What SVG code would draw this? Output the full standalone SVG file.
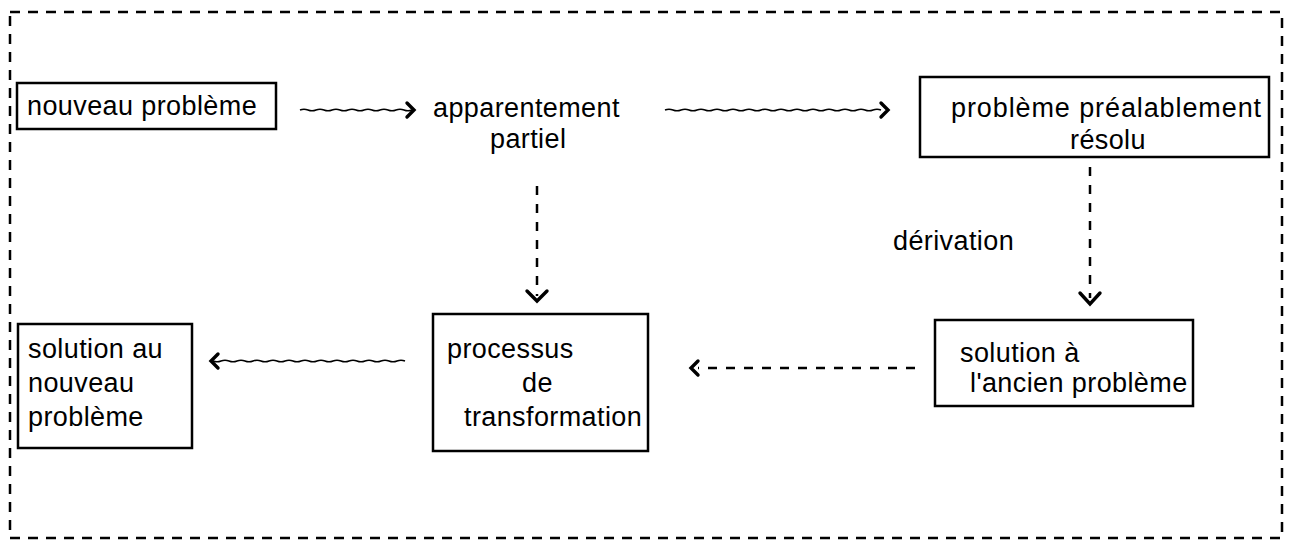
<svg xmlns="http://www.w3.org/2000/svg" width="1290" height="551" viewBox="0 0 1290 551">
<style>
text{font-family:"Liberation Sans",Arial,sans-serif;font-size:27px;letter-spacing:0.4px;fill:#000}
.box{fill:none;stroke:#000;stroke-width:2.5}
.frame{fill:none;stroke:#000;stroke-width:2.5;stroke-dasharray:10 8}
.wave{fill:none;stroke:#000;stroke-width:1.5}
.dash{fill:none;stroke:#000;stroke-width:2.5;stroke-dasharray:9 9}
.head{fill:none;stroke:#000;stroke-width:3.4;stroke-linecap:round;stroke-linejoin:miter}
</style>
<rect class="frame" x="10" y="12" width="1272" height="526"/>
<g id="connectors">
<path class="wave" d="M300 110 q4 -1.6 8 0 t8 0 t8 0 t8 0 t8 0 t8 0 t8 0 t8 0 t8 0 t8 0 t8 0 t8 0 t8 0 t8 0"/>
<path class="head" d="M407 103 L414 110 L407 117"/>
<path class="wave" d="M665 110 q4 -1.6 8 0 t8 0 t8 0 t8 0 t8 0 t8 0 t8 0 t8 0 t8 0 t8 0 t8 0 t8 0 t8 0 t8 0 t8 0 t8 0 t8 0 t8 0 t8 0 t8 0 t8 0 t8 0 t8 0 t8 0 t8 0 t8 0 t8 0"/>
<path class="head" d="M881 103 L888 110 L881 117"/>
<path class="dash" d="M537 186 V296"/>
<path class="head" d="M527 291 L537 301 L547 291"/>
<path class="dash" d="M1090 167 V298"/>
<path class="head" d="M1080 293 L1090 304 L1100 293"/>
<path class="dash" d="M915 368 H698"/>
<path class="head" d="M698 361 L691 368 L698 375"/>
<path class="wave" d="M405 361 q-4 -1.6 -8 0 t-8 0 t-8 0 t-8 0 t-8 0 t-8 0 t-8 0 t-8 0 t-8 0 t-8 0 t-8 0 t-8 0 t-8 0 t-8 0 t-8 0 t-8 0 t-8 0 t-8 0 t-8 0 t-8 0 t-8 0 t-8 0 t-8 0 t-8 0"/>
<path class="head" d="M218 354 L211 361 L218 368"/>
</g>
<g id="n-nouveau">
<rect class="box" x="17" y="83" width="259" height="46"/>
<text x="27" y="115">nouveau problème</text>
</g>
<g id="n-apparentement">
<text x="433" y="117">apparentement</text>
<text x="490" y="148">partiel</text>
</g>
<g id="n-prealable">
<rect class="box" x="920" y="77" width="349" height="80"/>
<text x="951" y="117" style="letter-spacing:0.9px">problème préalablement</text>
<text x="1070" y="149">résolu</text>
</g>
<g id="n-derivation">
<text x="893" y="250">dérivation</text>
</g>
<g id="n-ancienne">
<rect class="box" x="935" y="320" width="258" height="86"/>
<text x="960" y="362">solution à</text>
<text x="970" y="392">l'ancien problème</text>
</g>
<g id="n-processus">
<rect class="box" x="433" y="314" width="215" height="137"/>
<text x="447" y="358">processus</text>
<text x="522" y="392">de</text>
<text x="464" y="426">transformation</text>
</g>
<g id="n-solution">
<rect class="box" x="18" y="324" width="174" height="124"/>
<text x="28" y="358">solution au</text>
<text x="28" y="392">nouveau</text>
<text x="28" y="426">problème</text>
</g>
</svg>
